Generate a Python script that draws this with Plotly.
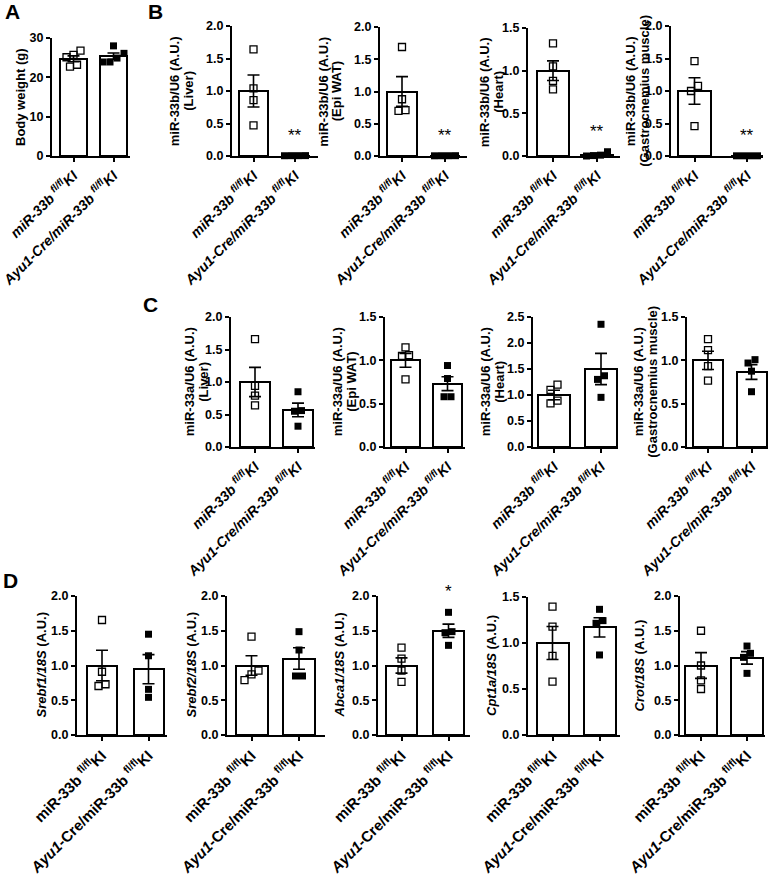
import plotly.graph_objects as go

W, H = 774, 875
FONT = "Liberation Sans, Arial, sans-serif"

# ---------------- data ----------------
groups_italic = ["<i>miR-33b <sup>fl/fl</sup>KI</i>", "<i>Ayu1-Cre/miR-33b <sup>fl/fl</sup>KI</i>"]
groups_plain = ["miR-33b <sup>fl/fl</sup>KI", "<i>Ayu1</i>-Cre/miR-33b <sup>fl/fl</sup>KI"]

# A: body weight
bw_ctrl = [25.7, 25.1, 26.8, 22.7, 23.2]
bw_ko = [28.0, 26.1, 24.9, 23.9, 23.9]
bw_mean = [24.7, 25.4]
bw_sem = [0.75, 0.8]

# B: miR-33b/U6
b_liver_ctrl = [1.64, 1.04, 0.86, 0.47]
b_liver_ko = [0.005, 0.004, 0.006, 0.005]
b_liver_mean = [1.0, 0.005]
b_liver_sem = [0.245, 0.001]

b_epi_ctrl = [1.69, 0.88, 0.70, 0.71]
b_epi_ko = [0.004, 0.005, 0.003, 0.004]
b_epi_mean = [1.0, 0.004]
b_epi_sem = [0.23, 0.001]

b_heart_ctrl = [1.32, 1.05, 0.88, 0.78]
b_heart_ko = [0.01, 0.0, 0.005, 0.05]
b_heart_mean = [1.0, 0.016]
b_heart_sem = [0.115, 0.011]

b_gas_ctrl = [1.46, 1.08, 1.0, 0.46]
b_gas_ko = [0.003, 0.003, 0.003, 0.003]
b_gas_mean = [1.0, 0.003]
b_gas_sem = [0.205, 0.001]

# C: miR-33a/U6
c_liver_ctrl = [1.66, 0.94, 0.79, 0.64]
c_liver_ko = [0.85, 0.56, 0.55, 0.32]
c_liver_mean = [1.0, 0.57]
c_liver_sem = [0.225, 0.105]

c_epi_ctrl = [1.15, 1.06, 1.05, 0.78]
c_epi_ko = [0.94, 0.79, 0.58, 0.58]
c_epi_mean = [1.0, 0.73]
c_epi_sem = [0.08, 0.08]

c_heart_ctrl = [1.2, 1.1, 0.89, 0.84]
c_heart_ko = [2.36, 1.37, 1.30, 0.955]
c_heart_mean = [1.0, 1.5]
c_heart_sem = [0.09, 0.3]

c_gas_ctrl = [1.245, 1.117, 0.934, 0.767]
c_gas_ko = [1.008, 0.969, 0.875, 0.638]
c_gas_mean = [1.0, 0.865]
c_gas_sem = [0.105, 0.085]

# D: gene expression / 18S
d_srebf1_ctrl = [1.655, 0.91, 0.73, 0.705]
d_srebf1_ko = [1.45, 1.14, 0.657, 0.542]
d_srebf1_mean = [1.0, 0.947]
d_srebf1_sem = [0.22, 0.21]

d_srebf2_ctrl = [1.415, 0.926, 0.873, 0.79]
d_srebf2_ko = [1.487, 1.223, 0.849, 0.849]
d_srebf2_mean = [1.0, 1.10]
d_srebf2_sem = [0.14, 0.155]

d_abca1_ctrl = [1.257, 1.098, 0.926, 0.763]
d_abca1_ko = [1.765, 1.487, 1.472, 1.29]
d_abca1_mean = [1.0, 1.5]
d_abca1_sem = [0.11, 0.095]

d_cpt1a_ctrl = [1.395, 1.178, 0.859, 0.58]
d_cpt1a_ko = [1.366, 1.243, 1.214, 0.87]
d_cpt1a_mean = [1.0, 1.17]
d_cpt1a_sem = [0.18, 0.105]

d_crot_ctrl = [1.50, 1.0, 0.787, 0.662]
d_crot_ko = [1.28, 1.175, 1.117, 0.887]
d_crot_mean = [1.0, 1.11]
d_crot_sem = [0.185, 0.09]

panels = [
    dict(ctrl=bw_ctrl, ko=bw_ko, mean=bw_mean, sem=bw_sem, ymax=30, dtick=10, fmt="d",
         title="Body weight (g)", sig="", labels=groups_italic),
    dict(ctrl=b_liver_ctrl, ko=b_liver_ko, mean=b_liver_mean, sem=b_liver_sem, ymax=2.0, dtick=0.5, fmt=".1f",
         title="miR-33b/U6 (A.U.)<br>(Liver)", sig="**", labels=groups_italic),
    dict(ctrl=b_epi_ctrl, ko=b_epi_ko, mean=b_epi_mean, sem=b_epi_sem, ymax=2.0, dtick=0.5, fmt=".1f",
         title="miR-33b/U6 (A.U.)<br>(Epi WAT)", sig="**", labels=groups_italic),
    dict(ctrl=b_heart_ctrl, ko=b_heart_ko, mean=b_heart_mean, sem=b_heart_sem, ymax=1.5, dtick=0.5, fmt=".1f",
         title="miR-33b/U6 (A.U.)<br>(Heart)", sig="**", labels=groups_italic),
    dict(ctrl=b_gas_ctrl, ko=b_gas_ko, mean=b_gas_mean, sem=b_gas_sem, ymax=2.0, dtick=0.5, fmt=".1f",
         title="miR-33b/U6 (A.U.)<br>(Gastrocnemius muscle)", sig="**", labels=groups_italic),
    dict(ctrl=c_liver_ctrl, ko=c_liver_ko, mean=c_liver_mean, sem=c_liver_sem, ymax=2.0, dtick=0.5, fmt=".1f",
         title="miR-33a/U6 (A.U.)<br>(Liver)", sig="", labels=groups_italic),
    dict(ctrl=c_epi_ctrl, ko=c_epi_ko, mean=c_epi_mean, sem=c_epi_sem, ymax=1.5, dtick=0.5, fmt=".1f",
         title="miR-33a/U6 (A.U.)<br>(Epi WAT)", sig="", labels=groups_italic),
    dict(ctrl=c_heart_ctrl, ko=c_heart_ko, mean=c_heart_mean, sem=c_heart_sem, ymax=2.5, dtick=0.5, fmt=".1f",
         title="miR-33a/U6 (A.U.)<br>(Heart)", sig="", labels=groups_italic),
    dict(ctrl=c_gas_ctrl, ko=c_gas_ko, mean=c_gas_mean, sem=c_gas_sem, ymax=1.5, dtick=0.5, fmt=".1f",
         title="miR-33a/U6 (A.U.)<br>(Gastrocnemius muscle)", sig="", labels=groups_italic),
    dict(ctrl=d_srebf1_ctrl, ko=d_srebf1_ko, mean=d_srebf1_mean, sem=d_srebf1_sem, ymax=2.0, dtick=0.5, fmt=".1f",
         title="<i>Srebf1/18S</i> (A.U.)", sig="", labels=groups_plain),
    dict(ctrl=d_srebf2_ctrl, ko=d_srebf2_ko, mean=d_srebf2_mean, sem=d_srebf2_sem, ymax=2.0, dtick=0.5, fmt=".1f",
         title="<i>Srebf2/18S</i> (A.U.)", sig="", labels=groups_plain),
    dict(ctrl=d_abca1_ctrl, ko=d_abca1_ko, mean=d_abca1_mean, sem=d_abca1_sem, ymax=2.0, dtick=0.5, fmt=".1f",
         title="<i>Abca1/18S</i> (A.U.)", sig="*", labels=groups_plain),
    dict(ctrl=d_cpt1a_ctrl, ko=d_cpt1a_ko, mean=d_cpt1a_mean, sem=d_cpt1a_sem, ymax=1.5, dtick=0.5, fmt=".1f",
         title="<i>Cpt1a/18S</i> (A.U.)", sig="", labels=groups_plain),
    dict(ctrl=d_crot_ctrl, ko=d_crot_ko, mean=d_crot_mean, sem=d_crot_sem, ymax=2.0, dtick=0.5, fmt=".1f",
         title="<i>Crot/18S</i> (A.U.)", sig="", labels=groups_plain),
]

# ---------------- layout geometry (pixels) ----------------
# y-axis x, x-axis end, bar1 centre, bar2 centre, bar width, top y, bottom y, title centre x
geom = [
    (52, 130, 73.5, 113.5, 27, 38, 156, 20),
    (232, 318, 253.5, 295, 29, 26, 156, 182),
    (380, 467, 402, 445, 30, 27, 156, 330),
    (528, 620, 553, 597, 32, 28, 156, 491),
    (671, 763, 694.5, 747, 33, 26, 156, 638),
    (231, 315, 255, 298, 30, 317, 447, 196),
    (385, 465, 405.5, 447.5, 29, 317, 447, 344),
    (533, 618, 554, 601, 32, 317, 447, 492),
    (687, 768, 708, 751.5, 30, 317, 447, 645),
    (77, 167, 102, 148.5, 30, 596, 735, 41),
    (227, 325, 251.5, 299, 32, 596, 735, 191),
    (378, 470, 401.5, 448.5, 31, 596, 735, 339),
    (528, 620, 552.5, 599.5, 32, 597, 735, 491),
    (680, 765, 701, 747, 32, 596, 735, 639),
]
xfont_sizes = [14] * 9 + [15] * 5
LINE_GAP = 13.5


def spread(vals, pxy, pxx, thr=6.5, step=7.0):
    order = sorted(range(len(vals)), key=lambda k: vals[k])
    offs = [0.0] * len(vals)
    clusters = []
    for k in order:
        if clusters and (vals[k] - vals[clusters[-1][-1]]) * pxy < thr:
            clusters[-1].append(k)
        else:
            clusters.append([k])
    for c in clusters:
        n = len(c)
        for j, k in enumerate(c):
            offs[k] = (j - (n - 1) / 2) * step / pxx
    return offs


fig = go.Figure()
layout = {}
annotations = []

for i, (p, g) in enumerate(zip(panels, geom)):
    ax0, xe, c1, c2, bwid, yt, yb, tx = g
    s = c2 - c1
    xr = [(ax0 - c1) / s, (xe - c1) / s]
    xn = "x" if i == 0 else f"x{i+1}"
    yn = "y" if i == 0 else f"y{i+1}"
    xk = "xaxis" if i == 0 else f"xaxis{i+1}"
    yk = "yaxis" if i == 0 else f"yaxis{i+1}"

    fig.add_trace(go.Bar(
        x=[0, 1], y=p["mean"], width=bwid / s,
        marker=dict(color="white", line=dict(color="black", width=2)),
        error_y=dict(type="data", array=p["sem"], visible=True, color="black", thickness=1.6, width=6),
        xaxis=xn, yaxis=yn, cliponaxis=False, hoverinfo="skip"))

    pxy = (yb - yt) / p["ymax"]
    for gi, vals in enumerate([p["ctrl"], p["ko"]]):
        offs = spread(vals, pxy, s)
        if gi == 0:
            mk = dict(symbol="square-open", size=7, color="black", line=dict(color="black", width=1.3))
        else:
            mk = dict(symbol="square", size=7, color="black", line=dict(width=0))
        fig.add_trace(go.Scatter(
            x=[gi + o for o in offs], y=vals, mode="markers", marker=mk,
            xaxis=xn, yaxis=yn, cliponaxis=False, hoverinfo="skip"))

    layout[xk] = dict(
        domain=[ax0 / W, xe / W], range=xr, anchor=yn, automargin=False,
        showline=True, linecolor="black", linewidth=2, mirror=False,
        ticks="outside", ticklen=4, tickwidth=1.5, tickcolor="black",
        tickvals=[0, 1], ticktext=p["labels"], tickangle=-45, ticklabeloverflow="allow",
        tickfont=dict(family=FONT, size=xfont_sizes[i], color="black", weight="bold"),
        showgrid=False, zeroline=False, fixedrange=True)
    layout[yk] = dict(
        domain=[1 - yb / H, 1 - yt / H], range=[0, p["ymax"]], anchor=xn, automargin=False,
        showline=True, linecolor="black", linewidth=2,
        ticks="outside", ticklen=4, tickwidth=1.5, tickcolor="black",
        dtick=p["dtick"], tick0=0, tickformat=p["fmt"], ticklabeloverflow="allow",
        tickfont=dict(family=FONT, size=12.5, color="black", weight="bold"),
        showgrid=False, zeroline=False, fixedrange=True)

    lines = p["title"].split("<br>")
    nl = len(lines)
    for li, txt in enumerate(lines):
        lx = tx + (li - (nl - 1) / 2) * LINE_GAP
        annotations.append(dict(
            x=lx / W, y=1 - ((yt + yb) / 2) / H, xref="paper", yref="paper",
            text=txt, textangle=-90, showarrow=False,
            xanchor="center", yanchor="middle", align="center",
            font=dict(family=FONT, size=13, color="black", weight="bold")))

    if p["sig"]:
        top = max(p["mean"][1] + p["sem"][1], max(p["ko"]))
        annotations.append(dict(
            x=1, y=top, xref=xn, yref=yn, text=p["sig"], showarrow=False,
            xanchor="center", yanchor="bottom", yshift=9,
            font=dict(family=FONT, size=17, color="black")))

for letter, (lx, ly) in zip(["A", "B", "C", "D"], [(12, 12), (155, 12), (150, 305), (10, 580)]):
    annotations.append(dict(
        x=lx / W, y=1 - ly / H, xref="paper", yref="paper", text=letter, showarrow=False,
        xanchor="center", yanchor="middle",
        font=dict(family=FONT, size=21, color="black", weight="bold")))

fig.update_layout(
    template="none",
    width=W, height=H, margin=dict(l=0, r=0, t=0, b=0, autoexpand=False),
    paper_bgcolor="white", plot_bgcolor="rgba(0,0,0,0)",
    showlegend=False, bargap=0, annotations=annotations,
    font=dict(family=FONT, color="black"),
    **layout)

fig.write_html("out.html", config={"displayModeBar": False},
               post_script="document.body.style.margin='0';document.body.style.padding='0';")
